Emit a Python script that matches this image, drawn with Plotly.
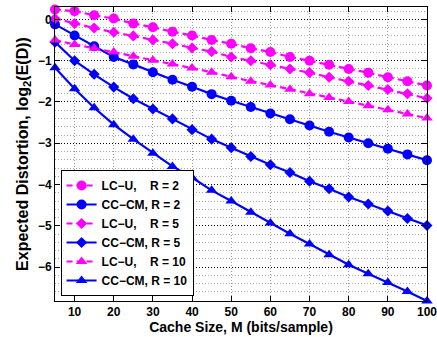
import plotly.graph_objects as go

M = [5, 10, 15, 20, 25, 30, 35, 40, 45, 50, 55, 60, 65, 70, 75, 80, 85, 90, 95, 100]

lcu_r2 = [0.24, 0.20, 0.10, 0.02, -0.10, -0.19, -0.30, -0.39, -0.50, -0.59,
          -0.70, -0.79, -0.91, -1.00, -1.10, -1.20, -1.29, -1.40, -1.50, -1.60]
cccm_r2 = [-0.12, -0.39, -0.65, -0.91, -1.09, -1.28, -1.46, -1.63, -1.81, -1.97,
           -2.12, -2.28, -2.42, -2.57, -2.72, -2.86, -3.00, -3.13, -3.27, -3.41]
lcu_r5 = [0.02, -0.10, -0.21, -0.31, -0.40, -0.50, -0.59, -0.69, -0.78, -0.91,
          -1.00, -1.10, -1.20, -1.29, -1.40, -1.50, -1.60, -1.70, -1.80, -1.91]
cccm_r5 = [-0.55, -1.00, -1.33, -1.64, -1.92, -2.17, -2.41, -2.67, -2.90, -3.11,
           -3.32, -3.52, -3.71, -3.92, -4.10, -4.30, -4.47, -4.64, -4.82, -4.99]
lcu_r10 = [-0.50, -0.61, -0.70, -0.79, -0.89, -0.99, -1.08, -1.18, -1.28, -1.39,
           -1.50, -1.59, -1.69, -1.80, -1.89, -1.99, -2.09, -2.19, -2.29, -2.39]
cccm_r10 = [-1.17, -1.68, -2.14, -2.55, -2.90, -3.24, -3.56, -3.83, -4.14, -4.40,
            -4.67, -4.93, -5.19, -5.44, -5.70, -5.94, -6.16, -6.37, -6.59, -6.82]

x_ticks = [10, 20, 30, 40, 50, 60, 70, 80, 90, 100]
y_ticks = [0, -1, -2, -3, -4, -5, -6]

NB = "\u00a0"
names = ["LC\u2212U," + NB * 4 + "R = 2", "CC\u2212CM, R = 2",
         "LC\u2212U," + NB * 4 + "R = 5", "CC\u2212CM, R = 5",
         "LC\u2212U," + NB * 4 + "R = 10", "CC\u2212CM, R = 10"]
series = [lcu_r2, cccm_r2, lcu_r5, cccm_r5, lcu_r10, cccm_r10]
symbols = ["circle", "circle", "diamond", "diamond", "triangle-up", "triangle-up"]
sizes = [10, 10, 8.5, 8.5, 10, 10]

MAG = "#FF00FF"
BLUE = "#0000FF"

fig = go.Figure()
for i, (nm, ys) in enumerate(zip(names, series)):
    lc = i % 2 == 0
    col = MAG if lc else BLUE
    fig.add_trace(go.Scatter(
        x=M, y=ys, name="<b>" + nm + "</b>", mode="lines+markers",
        line=dict(color=col, width=2.2, dash="6px,4px" if lc else "solid"),
        marker=dict(symbol=symbols[i], size=sizes[i], color=col),
        cliponaxis=False,
    ))

font_family = "Liberation Sans, Arial, sans-serif"

fig.update_layout(
    width=437, height=337,
    margin=dict(l=55, r=10, t=7, b=36, autoexpand=False),
    paper_bgcolor="white", plot_bgcolor="white",
    font=dict(family=font_family, color="black", size=12),
    showlegend=True,
    legend=dict(
        x=0.015, y=0.017, xanchor="left", yanchor="bottom",
        bgcolor="white", bordercolor="black", borderwidth=1,
        font=dict(size=12, family=font_family, color="black"),
        tracegroupgap=0,
    ),
)

fig.update_xaxes(
    range=[5, 100.0001], tickvals=x_ticks,
    ticktext=["<b>%d</b>" % v for v in x_ticks],
    ticks="inside", ticklen=5, tickcolor="black",
    showline=True, linecolor="black", linewidth=1, mirror="allticks",
    showgrid=True, gridcolor="#9a9a9a", griddash="1px,2px", gridwidth=1,
    zeroline=False, automargin=False, ticklabeloverflow="allow",
    tickfont=dict(size=12),
    title=dict(text="<b>Cache Size, M (bits/sample)</b>", font=dict(size=14), standoff=2),
)
fig.update_yaxes(
    range=[-6.82, 0.3], tickvals=y_ticks,
    ticktext=["<b>0</b>"] + ["<b>\u2212%d</b>" % -v for v in y_ticks[1:]],
    ticks="inside", ticklen=5, tickcolor="black",
    showline=True, linecolor="black", linewidth=1, mirror="allticks",
    showgrid=True, gridcolor="black", griddash="1px,2px", gridwidth=1,
    zeroline=False, automargin=False, ticklabeloverflow="allow",
    tickfont=dict(size=12),
    minor=dict(dtick=0.2, tick0=0, showgrid=True, gridcolor="#a8a8a8",
               griddash="1px,2px", gridwidth=1, ticks=""),
    title=dict(text="<b>Expected Distortion, log<sub>2</sub>(E(D))</b>", font=dict(size=16), standoff=5),
)

fig.write_html("out.html", config={"displayModeBar": False},
               post_script="document.body.style.margin='0px';document.body.style.overflow='hidden';")
